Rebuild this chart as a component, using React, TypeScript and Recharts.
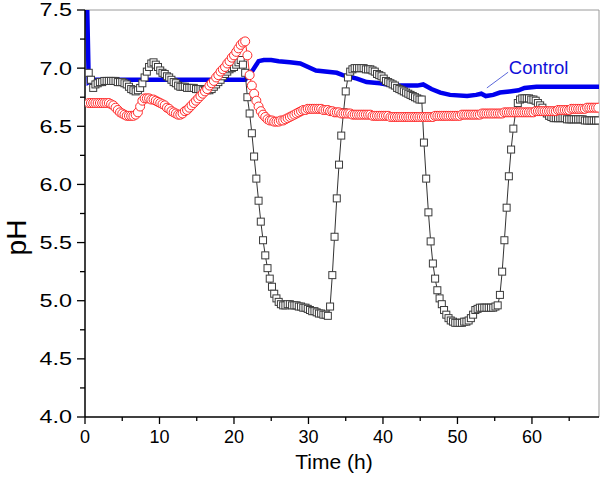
import React from 'react';
import { LineChart, Line, XAxis, YAxis, ReferenceLine, ReferenceDot } from 'recharts';

// sampling of the logged runs (h)
const SAMPLE_START = 0.5;
const SAMPLE_STEP = 0.3;

// pH of run with square markers
const squareValues = [
  6.96, 6.90, 6.83, 6.86, 6.87, 6.88, 6.88, 6.89, 6.89, 6.89,
  6.89, 6.89, 6.89, 6.88, 6.88, 6.88, 6.87, 6.86, 6.84, 6.82,
  6.81, 6.80, 6.81, 6.83, 6.87, 6.92, 6.97, 7.01, 7.04, 7.05,
  7.03, 7.01, 6.98, 6.96, 6.95, 6.93, 6.92, 6.90, 6.88, 6.87,
  6.85, 6.84, 6.84, 6.84, 6.83, 6.83, 6.83, 6.83, 6.82, 6.82,
  6.82, 6.81, 6.81, 6.81, 6.81, 6.82, 6.84, 6.86, 6.88, 6.90,
  6.93, 6.95, 6.97, 6.99, 7.00, 7.01, 7.03, 7.05, 7.07, 7.03,
  6.96, 6.75, 6.61, 6.44, 6.24, 6.05, 5.86, 5.68, 5.52, 5.39,
  5.28, 5.19, 5.12, 5.06, 5.02, 4.99, 4.97, 4.96, 4.96, 4.97,
  4.97, 4.96, 4.96, 4.96, 4.95, 4.95, 4.94, 4.94, 4.93, 4.92,
  4.91, 4.91, 4.90, 4.89, 4.89, 4.88, 4.88, 4.87, 4.95, 5.22,
  5.55, 5.88, 6.17, 6.42, 6.62, 6.80, 6.92, 6.97, 6.99, 7.00,
  7.00, 7.00, 7.00, 7.00, 6.99, 6.99, 6.99, 6.98, 6.97, 6.95,
  6.94, 6.93, 6.91, 6.89, 6.88, 6.87, 6.86, 6.85, 6.83, 6.82,
  6.81, 6.80, 6.79, 6.78, 6.77, 6.76, 6.75, 6.74, 6.73, 6.73,
  6.36, 6.05, 5.76, 5.51, 5.32, 5.19, 5.09, 5.02, 4.97, 4.92,
  4.88, 4.85, 4.83, 4.82, 4.81, 4.81, 4.81, 4.81, 4.82, 4.82,
  4.83, 4.85, 4.88, 4.92, 4.93, 4.94, 4.94, 4.94, 4.94, 4.94,
  4.94, 4.94, 4.95, 4.96, 5.05, 5.25, 5.52, 5.80, 6.07, 6.30,
  6.48, 6.62, 6.70, 6.73, 6.74, 6.74, 6.74, 6.74, 6.73, 6.73,
  6.72, 6.70, 6.68, 6.66, 6.63, 6.61, 6.59, 6.58, 6.57, 6.57,
  6.57, 6.57, 6.57, 6.57, 6.56, 6.56, 6.56, 6.56, 6.56, 6.56,
  6.56, 6.56, 6.55, 6.55, 6.55, 6.55, 6.55, 6.55, 6.55,
];

// pH of run with circle markers
const circleValues = [
  6.70, 6.70, 6.70, 6.70, 6.70, 6.70, 6.70, 6.70, 6.70, 6.70,
  6.69, 6.68, 6.66, 6.64, 6.62, 6.61, 6.60, 6.59, 6.59, 6.59,
  6.59, 6.60, 6.62, 6.67, 6.72, 6.74, 6.74, 6.74, 6.73, 6.73,
  6.72, 6.71, 6.70, 6.69, 6.68, 6.66, 6.65, 6.63, 6.62, 6.61,
  6.60, 6.60, 6.61, 6.63, 6.64, 6.66, 6.68, 6.70, 6.72, 6.74,
  6.76, 6.78, 6.80, 6.82, 6.85, 6.87, 6.89, 6.92, 6.94, 6.97,
  6.99, 7.01, 7.04, 7.06, 7.09, 7.11, 7.14, 7.17, 7.20, 7.22,
  7.23, 7.11, 6.94, 6.85, 6.78, 6.72, 6.67, 6.63, 6.60, 6.58,
  6.56, 6.55, 6.55, 6.54, 6.54, 6.54, 6.55, 6.55, 6.56, 6.57,
  6.58, 6.59, 6.60, 6.61, 6.62, 6.63, 6.64, 6.64, 6.65, 6.65,
  6.65, 6.65, 6.65, 6.65, 6.65, 6.64, 6.64, 6.64, 6.63, 6.63,
  6.62, 6.62, 6.62, 6.61, 6.61, 6.61, 6.61, 6.61, 6.60, 6.60,
  6.60, 6.60, 6.60, 6.60, 6.60, 6.60, 6.60, 6.59, 6.59, 6.59,
  6.59, 6.59, 6.59, 6.59, 6.59, 6.58, 6.58, 6.58, 6.58, 6.58,
  6.58, 6.58, 6.58, 6.58, 6.58, 6.58, 6.58, 6.58, 6.58, 6.58,
  6.58, 6.58, 6.58, 6.58, 6.58, 6.59, 6.59, 6.59, 6.59, 6.59,
  6.59, 6.59, 6.59, 6.59, 6.59, 6.59, 6.59, 6.60, 6.60, 6.60,
  6.60, 6.60, 6.60, 6.60, 6.60, 6.60, 6.61, 6.61, 6.61, 6.61,
  6.61, 6.61, 6.61, 6.61, 6.61, 6.61, 6.62, 6.62, 6.62, 6.62,
  6.62, 6.62, 6.62, 6.62, 6.62, 6.62, 6.62, 6.62, 6.62, 6.62,
  6.63, 6.63, 6.63, 6.63, 6.63, 6.63, 6.63, 6.63, 6.63, 6.63,
  6.64, 6.64, 6.64, 6.64, 6.64, 6.64, 6.65, 6.65, 6.65, 6.65,
  6.65, 6.65, 6.65, 6.66, 6.66, 6.66, 6.66, 6.66, 6.66,
];

// Control run: time (h) and pH
const controlTimes = [0, 0.3, 0.5, 1.0, 21.5, 22.5, 23.3, 24, 25, 26, 27.5, 28.9, 31, 33.8, 34.6, 36.5, 37.8, 39.6, 41.3, 44.6, 45.4, 46.5, 47.7, 49, 51.3, 52.5, 53.2, 53.8, 54.8, 55.7, 57, 58.2, 59, 60.6, 69];
const controlValues = [7.6, 7.5, 6.88, 6.90, 6.90, 6.98, 7.06, 7.07, 7.07, 7.06, 7.05, 7.04, 6.98, 6.96, 6.94, 6.91, 6.88, 6.87, 6.85, 6.85, 6.86, 6.82, 6.79, 6.77, 6.76, 6.77, 6.78, 6.76, 6.77, 6.79, 6.80, 6.81, 6.83, 6.84, 6.84];

const xTicks = [0, 5, 10, 15, 20, 25, 30, 35, 40, 45, 50, 55, 60, 65];
const xMajor = [0, 10, 20, 30, 40, 50, 60];
const yTicks = [4, 4.25, 4.5, 4.75, 5, 5.25, 5.5, 5.75, 6, 6.25, 6.5, 6.75, 7, 7.25, 7.5];
const yMajor = [4, 4.5, 5, 5.5, 6, 6.5, 7, 7.5];

const sampleTimes = squareValues.map((_, i) => +(SAMPLE_START + i * SAMPLE_STEP).toFixed(2));
const squareData = sampleTimes.map((t, i) => ({ t, v: squareValues[i] }));
const circleData = sampleTimes.map((t, i) => ({ t, v: circleValues[i] }));
const controlData = controlTimes.map((t, i) => ({ t, v: controlValues[i] }));

const FONT = '"Liberation Sans", Arial, sans-serif';

const XTick = (props: any) => {
  const { x, y, payload } = props;
  const major = xMajor.includes(payload.value);
  return (
    <g>
      <line x1={x} x2={x} y1={y} y2={y + (major ? 7 : 4)} stroke="#000" strokeWidth={1.3} />
      {major && (
        <text x={x} y={y + 26} textAnchor="middle" fontSize={18} fontFamily={FONT} fill="#000">
          {payload.value}
        </text>
      )}
    </g>
  );
};

const YTick = (props: any) => {
  const { x, y, payload } = props;
  const major = yMajor.includes(payload.value);
  return (
    <g>
      <line x1={x} x2={x - (major ? 8 : 5)} y1={y} y2={y} stroke="#000" strokeWidth={1.3} />
      {major && (
        <text
          transform={`translate(${x - 13},${y}) scale(1.3,1)`}
          x={0}
          y={0}
          dy="0.36em"
          textAnchor="end"
          fontSize={18}
          fontFamily={FONT}
          fill="#000"
        >
          {payload.value.toFixed(1)}
        </text>
      )}
    </g>
  );
};

const SquareDot = (props: any) => {
  const { cx, cy, index } = props;
  if (cx == null || cy == null) return <g key={`s${index}`} />;
  return (
    <rect key={`s${index}`} x={cx - 3.5} y={cy - 3.5} width={7} height={7} fill="#fff" stroke="#3a3a3a" strokeWidth={1} />
  );
};

const CircleDot = (props: any) => {
  const { cx, cy, index } = props;
  if (cx == null || cy == null) return <g key={`c${index}`} />;
  return <circle key={`c${index}`} cx={cx} cy={cy} r={4.5} fill="#fff" stroke="#ff2a2a" strokeWidth={1} />;
};

export default function App() {
  return (
    <div style={{ position: 'absolute', left: 0, top: 0, background: '#fff' }}>
      <LineChart width={601} height={477} margin={{ top: 10, right: 2, bottom: 0, left: 0 }}>
        <XAxis
          dataKey="t"
          type="number"
          domain={[0, 69]}
          ticks={xTicks}
          interval={0}
          allowDataOverflow
          height={60}
          tickSize={0}
          tickMargin={0}
          tickLine={false}
          axisLine={{ stroke: '#000', strokeWidth: 1.5 }}
          tick={<XTick />}
          label={(p: any) => {
            const vb = p.viewBox;
            return (
              <text x={vb.x + vb.width / 2 - 8} y={vb.y + 52} textAnchor="middle" fontSize={21} fontFamily={FONT} fill="#000">
                Time (h)
              </text>
            );
          }}
        />
        <YAxis
          dataKey="v"
          type="number"
          domain={[4, 7.5]}
          ticks={yTicks}
          interval={0}
          allowDataOverflow
          width={85}
          tickSize={0}
          tickMargin={0}
          tickLine={false}
          axisLine={{ stroke: '#000', strokeWidth: 1.5 }}
          tick={<YTick />}
          label={(p: any) => {
            const vb = p.viewBox;
            const cx = 26;
            const cy = vb.y + vb.height / 2 + 24;
            return (
              <text x={cx} y={cy} transform={`rotate(-90 ${cx} ${cy})`} textAnchor="middle" fontSize={28} fontFamily={FONT} fill="#000">
                pH
              </text>
            );
          }}
        />
        <ReferenceLine y={7.5} stroke="#9a9a9a" strokeWidth={1} />
        <ReferenceLine x={69} stroke="#9a9a9a" strokeWidth={1} />
        <Line
          data={controlData}
          dataKey="v"
          type="linear"
          stroke="#0000ee"
          strokeWidth={4.5}
          dot={false}
          isAnimationActive={false}
        />
        <Line
          data={squareData}
          dataKey="v"
          type="linear"
          stroke="#333"
          strokeWidth={1}
          dot={<SquareDot />}
          isAnimationActive={false}
        />
        <Line
          data={circleData}
          dataKey="v"
          type="linear"
          stroke="#ff2a2a"
          strokeWidth={1}
          dot={<CircleDot />}
          isAnimationActive={false}
        />
        <ReferenceLine
          segment={[{ x: 56.8, y: 6.965 }, { x: 53.95, y: 6.83 }]}
          stroke="#3040d0"
          strokeWidth={0.8}
        />
        <ReferenceDot
          x={60.9}
          y={7.01}
          r={1}
          fill="none"
          stroke="none"
          label={(p: any) => {
            const vb = p.viewBox;
            const cx = vb.x + (vb.width || 0) / 2;
            const cy = vb.y + (vb.height || 0) / 2;
            return (
              <text x={cx} y={cy} dy="0.36em" textAnchor="middle" fontSize={18.5} fontFamily={FONT} fill="#1010d8">
                Control
              </text>
            );
          }}
        />
      </LineChart>
    </div>
  );
}
